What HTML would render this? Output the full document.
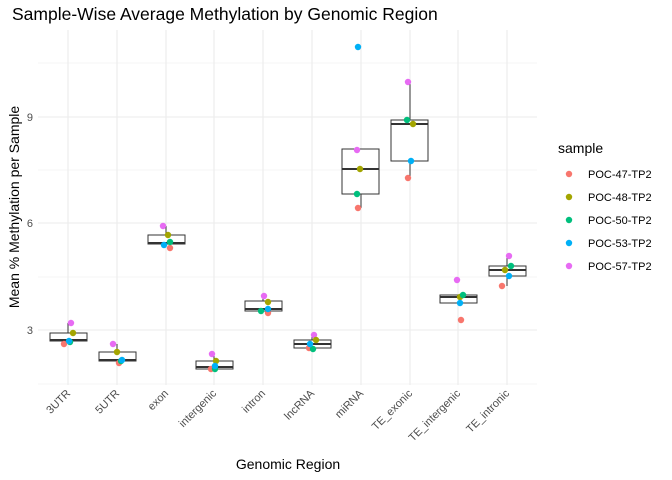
<!DOCTYPE html>
<html><head><meta charset="utf-8"><style>body{margin:0;background:#fff}svg{display:block}text{font-family:"Liberation Sans",sans-serif}</style></head><body>
<svg width="672" height="480" viewBox="0 0 672 480" xmlns="http://www.w3.org/2000/svg">
<rect width="672" height="480" fill="#fff"/>
<g stroke="#ebebeb">
<g stroke-width="0.6"><line x1="38" x2="537" y1="63" y2="63"/><line x1="38" x2="537" y1="170" y2="170"/><line x1="38" x2="537" y1="277" y2="277"/><line x1="38" x2="537" y1="384" y2="384"/></g>
<g stroke-width="1.1"><line x1="38" x2="537" y1="117" y2="117"/><line x1="38" x2="537" y1="223" y2="223"/><line x1="38" x2="537" y1="330" y2="330"/>
<line x1="68" x2="68" y1="30" y2="385"/><line x1="117" x2="117" y1="30" y2="385"/><line x1="166" x2="166" y1="30" y2="385"/><line x1="214" x2="214" y1="30" y2="385"/><line x1="263" x2="263" y1="30" y2="385"/><line x1="312" x2="312" y1="30" y2="385"/><line x1="361" x2="361" y1="30" y2="385"/><line x1="410" x2="410" y1="30" y2="385"/><line x1="458" x2="458" y1="30" y2="385"/><line x1="507" x2="507" y1="30" y2="385"/></g>
</g>
<g fill="#fff" stroke="#333" stroke-width="1">
<line x1="68" x2="68" y1="323" y2="333"/><rect x="50" y="333" width="37" height="8"/><line x1="50" x2="87" y1="340" y2="340" stroke-width="2"/>
<line x1="117" x2="117" y1="344" y2="352"/><rect x="99" y="352" width="37" height="9"/><line x1="99" x2="136" y1="360" y2="360" stroke-width="2"/>
<line x1="166" x2="166" y1="226" y2="235"/><rect x="148" y="235" width="37" height="9"/><line x1="148" x2="185" y1="243" y2="243" stroke-width="2"/>
<line x1="214" x2="214" y1="354" y2="361"/><rect x="196" y="361" width="37" height="8"/><line x1="196" x2="233" y1="367" y2="367" stroke-width="2"/>
<line x1="263" x2="263" y1="296" y2="301"/><rect x="245" y="301" width="37" height="10"/><line x1="245" x2="282" y1="309" y2="309" stroke-width="2"/>
<line x1="312" x2="312" y1="335" y2="340"/><rect x="294" y="340" width="37" height="8"/><line x1="294" x2="331" y1="344" y2="344" stroke-width="2"/>
<line x1="361" x2="361" y1="194" y2="208"/><rect x="342" y="149" width="37" height="45"/><line x1="342" x2="379" y1="169" y2="169" stroke-width="2"/>
<line x1="410" x2="410" y1="82" y2="120"/><line x1="410" x2="410" y1="161" y2="178"/><rect x="391" y="120" width="37" height="41"/><line x1="391" x2="428" y1="124" y2="124" stroke-width="2"/>
<rect x="440" y="295" width="37" height="8"/><line x1="440" x2="477" y1="297" y2="297" stroke-width="2"/>
<line x1="507" x2="507" y1="256" y2="266"/><line x1="507" x2="507" y1="276" y2="286"/><rect x="489" y="266" width="37" height="10"/><line x1="489" x2="526" y1="270" y2="270" stroke-width="2"/>
</g>
<g>
<circle cx="71" cy="323" r="3.2" fill="#E76BF3"/><circle cx="73" cy="333" r="3.2" fill="#A3A500"/><circle cx="64" cy="344" r="3.2" fill="#F8766D"/><circle cx="70" cy="342" r="3.2" fill="#00BF7D"/><circle cx="69" cy="341" r="3.2" fill="#00B0F6"/>
<circle cx="113" cy="344" r="3.2" fill="#E76BF3"/><circle cx="117" cy="352" r="3.2" fill="#A3A500"/><circle cx="119" cy="363" r="3.2" fill="#F8766D"/><circle cx="121" cy="361" r="3.2" fill="#00BF7D"/><circle cx="122" cy="360" r="3.2" fill="#00B0F6"/>
<circle cx="163" cy="226" r="3.2" fill="#E76BF3"/><circle cx="168" cy="235" r="3.2" fill="#A3A500"/><circle cx="170" cy="248" r="3.2" fill="#F8766D"/><circle cx="170" cy="242" r="3.2" fill="#00BF7D"/><circle cx="164" cy="245" r="3.2" fill="#00B0F6"/>
<circle cx="212" cy="354" r="3.2" fill="#E76BF3"/><circle cx="216" cy="361" r="3.2" fill="#A3A500"/><circle cx="211" cy="369" r="3.2" fill="#F8766D"/><circle cx="215" cy="369" r="3.2" fill="#00BF7D"/><circle cx="215" cy="366" r="3.2" fill="#00B0F6"/>
<circle cx="264" cy="296" r="3.2" fill="#E76BF3"/><circle cx="268" cy="302" r="3.2" fill="#A3A500"/><circle cx="268" cy="313" r="3.2" fill="#F8766D"/><circle cx="261" cy="311" r="3.2" fill="#00BF7D"/><circle cx="268" cy="309" r="3.2" fill="#00B0F6"/>
<circle cx="314" cy="335" r="3.2" fill="#E76BF3"/><circle cx="316" cy="340" r="3.2" fill="#A3A500"/><circle cx="309" cy="348" r="3.2" fill="#F8766D"/><circle cx="313" cy="349" r="3.2" fill="#00BF7D"/><circle cx="310" cy="344" r="3.2" fill="#00B0F6"/>
<circle cx="357" cy="150" r="3.2" fill="#E76BF3"/><circle cx="360" cy="169" r="3.2" fill="#A3A500"/><circle cx="358" cy="208" r="3.2" fill="#F8766D"/><circle cx="357" cy="194" r="3.2" fill="#00BF7D"/><circle cx="358" cy="47" r="3.2" fill="#00B0F6"/>
<circle cx="408" cy="82" r="3.2" fill="#E76BF3"/><circle cx="413" cy="124" r="3.2" fill="#A3A500"/><circle cx="408" cy="178" r="3.2" fill="#F8766D"/><circle cx="407" cy="120" r="3.2" fill="#00BF7D"/><circle cx="411" cy="161" r="3.2" fill="#00B0F6"/>
<circle cx="457" cy="280" r="3.2" fill="#E76BF3"/><circle cx="460" cy="297" r="3.2" fill="#A3A500"/><circle cx="461" cy="320" r="3.2" fill="#F8766D"/><circle cx="463" cy="295" r="3.2" fill="#00BF7D"/><circle cx="460" cy="303" r="3.2" fill="#00B0F6"/>
<circle cx="509" cy="256" r="3.2" fill="#E76BF3"/><circle cx="505" cy="270" r="3.2" fill="#A3A500"/><circle cx="502" cy="286" r="3.2" fill="#F8766D"/><circle cx="511" cy="266" r="3.2" fill="#00BF7D"/><circle cx="509" cy="276" r="3.2" fill="#00B0F6"/>
</g>
<g font-size="11" fill="#4d4d4d" text-anchor="end">
<text x="33" y="121">9</text><text x="33" y="227">6</text><text x="33" y="334">3</text>
</g>
<g font-size="11" fill="#4d4d4d" text-anchor="end">
<text transform="translate(71,394) rotate(-45)">3UTR</text>
<text transform="translate(120,394) rotate(-45)">5UTR</text>
<text transform="translate(169,394) rotate(-45)">exon</text>
<text transform="translate(217,394) rotate(-45)">intergenic</text>
<text transform="translate(266,394) rotate(-45)">intron</text>
<text transform="translate(315,394) rotate(-45)">lncRNA</text>
<text transform="translate(364,394) rotate(-45)">miRNA</text>
<text transform="translate(413,394) rotate(-45)">TE_exonic</text>
<text transform="translate(461,394) rotate(-45)">TE_intergenic</text>
<text transform="translate(510,394) rotate(-45)">TE_intronic</text>
</g>
<text x="288" y="469" font-size="14" text-anchor="middle">Genomic Region</text>
<text transform="translate(19,207) rotate(-90)" font-size="14" text-anchor="middle">Mean % Methylation per Sample</text>
<text x="12" y="20" font-size="17.5">Sample-Wise Average Methylation by Genomic Region</text>
<text x="558" y="153" font-size="14">sample</text>
<g font-size="11">
<circle cx="569" cy="174" r="3.2" fill="#F8766D"/><text x="588" y="178">POC-47-TP2</text>
<circle cx="569" cy="197" r="3.2" fill="#A3A500"/><text x="588" y="201">POC-48-TP2</text>
<circle cx="569" cy="220" r="3.2" fill="#00BF7D"/><text x="588" y="224">POC-50-TP2</text>
<circle cx="569" cy="243" r="3.2" fill="#00B0F6"/><text x="588" y="247">POC-53-TP2</text>
<circle cx="569" cy="266" r="3.2" fill="#E76BF3"/><text x="588" y="270">POC-57-TP2</text>
</g>
</svg>
</body></html>
